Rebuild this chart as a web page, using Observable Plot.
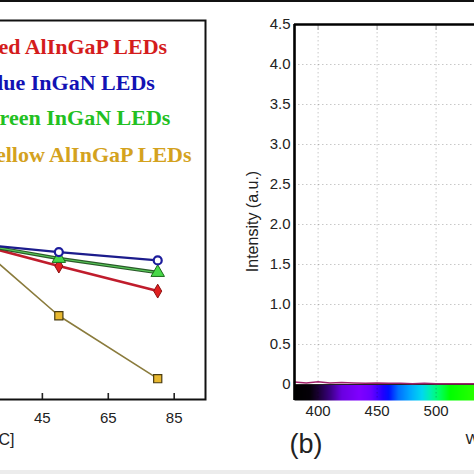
<!DOCTYPE html>
<html><head><meta charset="utf-8">
<script src="https://cdn.jsdelivr.net/npm/d3@7"></script>
<script src="https://cdn.jsdelivr.net/npm/@observablehq/plot@0.6"></script>
<style>
html,body{margin:0;padding:0;width:474px;height:474px;overflow:hidden;background:#fff;position:relative;}
#a,#b{position:absolute;top:0;}
#a{left:-117px;width:332px;}
#b{left:234px;width:552px;}
#a svg,#b svg{max-width:none !important;display:block;}
#topbar{position:absolute;left:0;top:0;width:474px;height:2px;background:#111;}
#botbar{position:absolute;left:0;top:470px;width:474px;height:4px;background:#ececec;}
</style></head><body>
<div id="a"></div><div id="b"></div><div id="topbar"></div><div id="botbar"></div>
<script>
// ---- panel (a): relative output vs temperature ----
const temps = [25, 50, 80];
const redAlInGaP = [1.0, 0.942, 0.876];
const blueInGaN = [1.0, 0.979, 0.957];
const greenInGaN = [1.0, 0.962, 0.925];
const yellowAlInGaP = [1.0, 0.811, 0.645];
const seriesNames = ["Red AlInGaP LEDs", "Blue InGaN LEDs", "Green InGaN LEDs", "Yellow AlInGaP LEDs"];
const tempTicks = [25, 45, 65, 85];
const tempLabel = "Temperature [°C]";

// ---- panel (b): spectrum ----
const wavelengths = [380, 390, 400, 410, 420, 430, 440, 450, 460, 470, 480, 490, 500, 510, 520, 530, 540, 550, 560];
const intensity = [0.03, 0.02, 0.035, 0.02, 0.025, 0.02, 0.015, 0.02, 0.015, 0.015, 0.01, 0.015, 0.01, 0.01, 0.01, 0.01, 0.01, 0.015, 0.02];
const intensityTicks = [0, 0.5, 1.0, 1.5, 2.0, 2.5, 3.0, 3.5, 4.0, 4.5];
const gridY = [0.5, 1.0, 1.5, 2.0, 2.5, 3.0, 3.5, 4.0];
const wavelengthTicks = [400, 450, 500, 550, 600, 650, 700, 750];
const spectrumNm = [380, 393, 400, 410, 420, 435, 445, 455, 460, 468, 478, 488, 495, 503, 512, 560, 580, 620, 700, 780];
const spectrumColor = ["#000000", "#050008", "#1a0033", "#3a0080", "#6a00e0", "#8000ff", "#6a00ff", "#2000ff", "#0010ff", "#0070ff", "#00a8ff", "#00d8f0", "#00f0b0", "#00ff60", "#00ff00", "#60ff00", "#ffff00", "#ff2000", "#800000", "#000000"];

const rows = [];
[[redAlInGaP, seriesNames[0]], [blueInGaN, seriesNames[1]], [greenInGaN, seriesNames[2]], [yellowAlInGaP, seriesNames[3]]]
  .forEach(([vals, name]) => vals.forEach((v, i) => rows.push({t: temps[i], v, s: name})));
const sel = n => rows.filter(d => d.s === n);

const legendColors = ["#d41c1c", "#1212b4", "#22c022", "#d4a21e"];
const legendBase = [33, 69, 104, 141];

const plotA = Plot.plot({
  width: 332, height: 474,
  marginLeft: 60, marginRight: 10, marginTop: 20, marginBottom: 75,
  style: {fontFamily: "'Liberation Sans', Arial, sans-serif", fontSize: "15px", color: "#222", background: "transparent"},
  x: {domain: [15, 94.5]},
  y: {domain: [0.59, 1.59], axis: null},
  marks: [
    Plot.line(sel(seriesNames[3]), {x: "t", y: "v", stroke: "#8a7b3c", strokeWidth: 1.6}),
    Plot.line(sel(seriesNames[0]), {x: "t", y: "v", stroke: "#c01c2c", strokeWidth: 2.6}),
    Plot.line(sel(seriesNames[2]), {x: "t", y: "v", stroke: "#2a5a2a", strokeWidth: 3.4}),
    Plot.line(sel(seriesNames[2]), {x: "t", y: "v", stroke: "#58c858", strokeWidth: 1.2}),
    Plot.line(sel(seriesNames[1]), {x: "t", y: "v", stroke: "#1c1c8c", strokeWidth: 2.2}),
    Plot.dot(sel(seriesNames[3]), {x: "t", y: "v", symbol: "square", r: 4.6, fill: "#e8b830", stroke: "#4a3c10", strokeWidth: 1.2}),
    Plot.dot(sel(seriesNames[0]), {x: "t", y: "v", symbol: "diamond", r: 4.2, fill: "#e02020", stroke: "#8a1010", strokeWidth: 1}),
    Plot.dot(sel(seriesNames[2]), {x: "t", y: "v", symbol: "triangle", r: 5, fill: "#48d848", stroke: "#1a6a1a", strokeWidth: 1}),
    Plot.dot(sel(seriesNames[1]), {x: "t", y: "v", symbol: "circle", r: 4, fill: "#fff", stroke: "#1c1c9c", strokeWidth: 2.2}),
    Plot.ruleX(tempTicks, {x: d => d, insetTop: 373, stroke: "#222", strokeWidth: 1.6}),
    Plot.frame({stroke: "#111", strokeWidth: 2}),
    Plot.axisX({ticks: tempTicks, tickSize: 0, tickPadding: 13, label: null, fill: "#222"}),
    ...seriesNames.map((n, i) => Plot.text([n], {
      frameAnchor: "top-left", dx: 39, dy: legendBase[i], text: d => d,
      textAnchor: "start", lineAnchor: "bottom", fill: legendColors[i],
      fontSize: 22, fontWeight: "bold", fontFamily: "'Liberation Serif', 'Times New Roman', serif"
    })),
    Plot.text([tempLabel], {frameAnchor: "bottom-left", dx: 71, dy: 45, text: d => d,
      textAnchor: "end", lineAnchor: "bottom", fontSize: 16, fill: "#222"})
  ]
});
document.getElementById("a").appendChild(plotA);

const spec = wavelengths.map((w, i) => ({w, v: intensity[i]}));

const plotB = Plot.plot({
  width: 552, height: 474,
  marginLeft: 60, marginRight: 20, marginTop: 24, marginBottom: 74,
  style: {fontFamily: "'Liberation Sans', Arial, sans-serif", fontSize: "15px", color: "#222", background: "transparent", maxWidth: "none"},
  x: {domain: [380, 780]},
  y: {domain: [-0.2, 4.5]},
  color: {type: "linear", domain: spectrumNm, range: spectrumColor, interpolate: "rgb"},
  marks: [
    Plot.raster({x1: 380, x2: 780, y1: -0.2, y2: 0, fill: (x, y) => x, width: 472, height: 1, imageRendering: "auto"}),
    Plot.ruleY(gridY, {y: d => d, stroke: "#c8c8c8", strokeDasharray: "1.5,2.5"}),
    Plot.ruleX(wavelengthTicks, {x: d => d, stroke: "#000", strokeOpacity: 0.22, strokeDasharray: "1.5,2.5"}),
    Plot.ruleX(wavelengthTicks, {x: d => d, insetBottom: 370, stroke: "#aaa", strokeWidth: 1.2}),
    Plot.ruleY([0], {y: d => d, stroke: "#222", strokeWidth: 1}),
    Plot.line(spec, {x: "w", y: "v", stroke: "#a0206a", strokeWidth: 1.5}),
    Plot.ruleX([380], {x: d => d, stroke: "#000", strokeWidth: 2.6}),
    Plot.ruleY([4.5], {y: d => d, stroke: "#000", strokeWidth: 2.6}),
    Plot.axisY({ticks: intensityTicks, tickSize: 0, tickPadding: 4, label: null, fill: "#222",
      tickFormat: d => d === 0 ? "0" : d.toFixed(1)}),
    Plot.axisX({ticks: wavelengthTicks, tickSize: 0, tickPadding: 5, label: null, fill: "#222"}),
    Plot.text(["Intensity (a.u.)"], {frameAnchor: "left", dx: -42, dy: 9, rotate: -90, text: d => d,
      textAnchor: "middle", lineAnchor: "middle", fontSize: 16, fill: "#222"}),
    Plot.text(["(b)"], {frameAnchor: "bottom-left", dx: -5, dy: 52, text: d => d,
      textAnchor: "start", lineAnchor: "bottom", fontSize: 27, fill: "#222"}),
    Plot.text(["Wavelength (nm)"], {frameAnchor: "bottom-left", dx: 171, dy: 43, text: d => d,
      textAnchor: "start", lineAnchor: "bottom", fontSize: 15, fill: "#222"})
  ]
});
document.getElementById("b").appendChild(plotB);
</script>
</body></html>
